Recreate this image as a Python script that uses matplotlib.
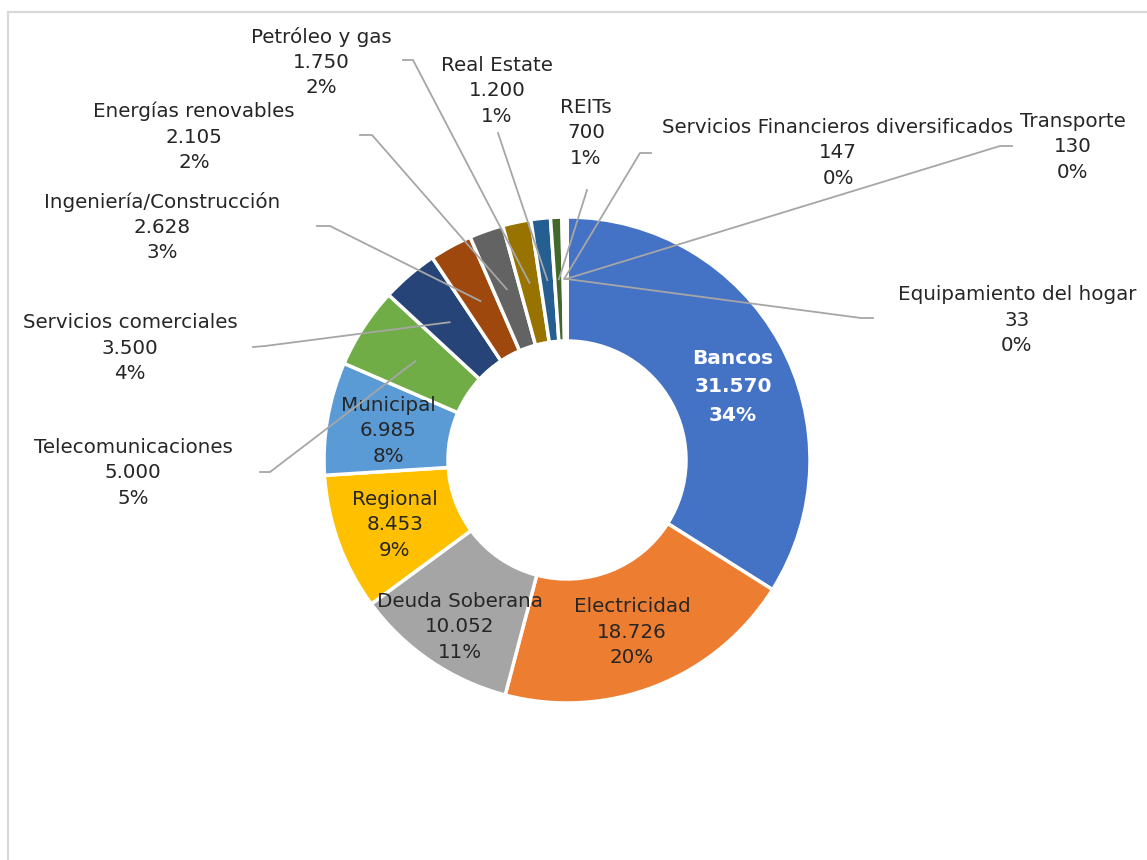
import numpy as np
import matplotlib
matplotlib.use('Agg')
import matplotlib.pyplot as plt
from matplotlib.lines import Line2D

W, H = 1147, 860

sectores = ['Bancos', 'Electricidad', 'Deuda Soberana', 'Regional', 'Municipal',
            'Telecomunicaciones', 'Servicios comerciales', 'Ingeniería/Construcción',
            'Energías renovables', 'Petróleo y gas', 'Real Estate', 'REITs',
            'Servicios Financieros diversificados', 'Transporte', 'Equipamiento del hogar']
montos = [31570, 18726, 10052, 8453, 6985, 5000, 3500, 2628, 2105, 1750, 1200, 700, 147, 130, 33]
colores = ['#4472C4', '#ED7D31', '#A5A5A5', '#FFC000', '#5B9BD5', '#70AD47', '#264478',
           '#9E480E', '#636363', '#997300', '#255E91', '#43682B', '#698ED0', '#F1975A', '#B7B7B7']

# posiciones de las etiquetas (pixeles, y hacia abajo) y codo de la linea guia
pos_etiqueta = {
    'Bancos': (733, 387), 'Electricidad': (632, 632), 'Deuda Soberana': (460, 627),
    'Regional': (395, 525), 'Municipal': (388, 431),
    'Telecomunicaciones': (133, 473), 'Servicios comerciales': (130, 348),
    'Ingeniería/Construcción': (162, 227), 'Energías renovables': (194, 137),
    'Petróleo y gas': (321, 62), 'Real Estate': (497, 91), 'REITs': (586, 133),
    'Servicios Financieros diversificados': (838, 153), 'Transporte': (1073, 147),
    'Equipamiento del hogar': (1017, 320),
}
codos = {
    'Telecomunicaciones': [(260, 472), (270, 472)],
    'Servicios comerciales': [(253, 347), (265, 346)],
    'Ingeniería/Construcción': [(317, 226), (330, 226)],
    'Energías renovables': [(360, 135), (372, 135)],
    'Petróleo y gas': [(403, 60), (413, 60)],
    'Real Estate': [(498, 133)],
    'REITs': [(587, 190)],
    'Servicios Financieros diversificados': [(651, 153), (640, 153)],
    'Transporte': [(1012, 146), (1000, 146)],
    'Equipamiento del hogar': [(873, 318), (861, 318)],
}

def px(x, y):
    return x, H - y

cx, cy = px(567, 460)
r_ext, r_int = 243, 119
total = sum(montos)

fig = plt.figure(figsize=(W / 100, H / 100), dpi=100)
ax = fig.add_axes([0, 0, 1, 1])
ax.pie(montos, colors=colores, startangle=90, counterclock=False,
       radius=r_ext, center=(cx, cy),
       wedgeprops=dict(width=r_ext - r_int, edgecolor='white', linewidth=2.5))
ax.set_xlim(0, W)
ax.set_ylim(0, H)
ax.set_aspect('equal')
ax.axis('off')

# borde del area del grafico
fig.add_artist(Line2D([8 / W, 8 / W], [0, 1 - 12 / H], color='#D9D9D9', lw=1.5))
fig.add_artist(Line2D([8 / W, 1], [1 - 12 / H, 1 - 12 / H], color='#D9D9D9', lw=1.5))

acum = 0
r_med = (r_ext + r_int) / 2
for nombre, v in zip(sectores, montos):
    ang = np.deg2rad(90 - (acum + v / 2) / total * 360)
    acum += v
    fin = (cx + r_med * np.cos(ang), cy + r_med * np.sin(ang))
    texto = f"{nombre}\n{v:,}".replace(',', '.') + f"\n{round(v / total * 100)}%"
    tx, ty = px(*pos_etiqueta[nombre])
    if nombre == 'Bancos':
        ax.text(tx, ty, texto, ha='center', va='center', color='white',
                fontsize=14.5, fontweight='bold', linespacing=1.65)
    else:
        ax.text(tx, ty, texto, ha='center', va='center', color='#262626',
                fontsize=14.3, linespacing=1.42)
    if nombre in codos:
        pts = [px(*p) for p in codos[nombre]] + [fin]
        xs, ys = zip(*pts)
        ax.plot(xs, ys, color='#A6A6A6', lw=1.3, zorder=5)

fig.savefig('out.png', dpi=100)
